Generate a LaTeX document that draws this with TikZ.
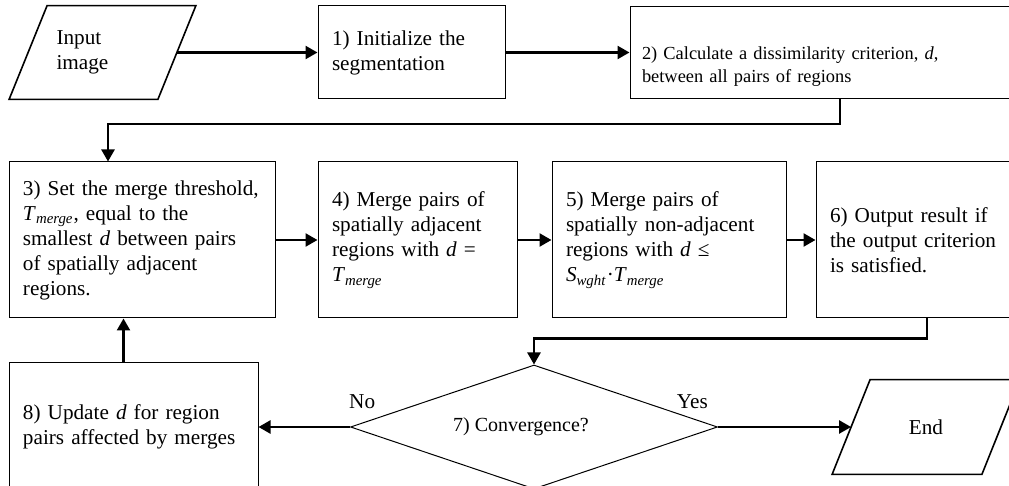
\documentclass[tikz,border=0pt]{standalone}
\usepackage{fontspec}
\setmainfont{Liberation Serif}
\usetikzlibrary{shapes.geometric}
\usetikzlibrary{arrows.meta}

\newcommand{\Tmerge}{\textit{T}\textsubscript{\textit{merge}}}
\newcommand{\Swght}{\textit{S}\textsubscript{\textit{wght}}}

\begin{document}
\begin{tikzpicture}[x=0.5pt,y=-0.5pt,>={Triangle[length=6pt,width=6.5pt]}, font=\fontsize{10.6}{12.5}\selectfont,
    box/.style={rectangle, draw, line width=0.5pt, align=left, inner xsep=7pt, inner ysep=0pt},
    io/.style={rectangle, align=left, inner ysep=0pt},
    dec/.style={diamond, draw, line width=0.5pt, aspect=3, inner sep=0pt, font=\fontsize{10}{12}\selectfont},
    flow/.style={->, line width=1.2pt}]
                    \useasboundingbox (0,0) rectangle (1009,486);
                    \clip (0,0) rectangle (1009,486);

                    \node[io, minimum width=74pt, minimum height=46.5pt, text width=46pt, inner xsep=14pt] (in) at (102.5,52.5) {Input\\image};
                    \draw [line width=0.8pt] ([xshift=9.5pt]in.north west) -- ([xshift=9.5pt]in.north east) -- ([xshift=-9.5pt]in.south east) -- ([xshift=-9.5pt]in.south west) -- cycle;

                    \node[box, minimum width=93.5pt, minimum height=46.5pt, text width=79.5pt] (1) at (411.5,52.5) {1) Initialize the\\segmentation};
                    \node[box, minimum width=210pt, minimum height=46pt, text width=198pt, inner xsep=6pt, font=\fontsize{9.2}{11.5}\selectfont] (2) at (840,52.5) {\rule{0pt}{20pt}2) Calculate a dissimilarity criterion, \textit{d},\\between all pairs of regions};

                    \node[box, minimum width=133pt, minimum height=78pt, text width=119pt] (3) at (142,240) {3) Set the merge threshold,\\\Tmerge, equal to the\\smallest \textit{d} between pairs\\of spatially adjacent\\regions.};
                    \node[box, minimum width=99.5pt, minimum height=78pt, text width=85.5pt] (4) at (417.5,240) {4) Merge pairs of\\spatially adjacent\\regions with \textit{d} =\\\Tmerge};
                    \node[box, minimum width=117pt, minimum height=78pt, text width=103pt] (5) at (669,240) {5) Merge pairs of\\spatially non-adjacent\\regions with \textit{d} ≤\\\Swght·\Tmerge};
                    \node[box, minimum width=111pt, minimum height=78pt, text width=97pt] (6) at (927,240) {6) Output result if\\the output criterion\\is satisfied.};

                    \node[dec, minimum width=183.5pt, minimum height=62pt] (7) at (534,427) {\hspace*{-13pt}7) Convergence?};
                    \node[box, minimum width=124.5pt, minimum height=64pt, text width=110.5pt] (8) at (133.5,427) {8) Update \textit{d} for region\\pairs affected by merges};

                    \node[io, minimum width=74.5pt, minimum height=47pt] (end) at (926,427) {End};
                    \draw [line width=0.8pt] ([xshift=9.5pt]end.north west) -- ([xshift=9.5pt]end.north east) -- ([xshift=-9.5pt]end.south east) -- ([xshift=-9.5pt]end.south west) -- cycle;

                    \draw [flow] (in) -- (1);
                    \draw [flow] (1) -- (2);
                    \draw [flow] (2.south) -- ++(0,25) -| ([xshift=-17pt]3.north);
                    \draw [flow] (3) -- (4);
                    \draw [flow] (4) -- (5);
                    \draw [flow] (5) -- (6);
                    \draw [flow] (6.south) -- ++(0,20) -| (7.north);
                    \draw [flow] (7.west) -- node[pos=0, anchor=south west, inner sep=0pt, xshift=-1pt, yshift=8.5pt] {No} (8.east);
                    \draw [flow] (7.east) -- node[pos=0, anchor=south east, inner sep=0pt, xshift=-4.5pt, yshift=8.5pt] {Yes} (end.west);
                    \draw [flow] ([xshift=-5pt]8.north) -- ([xshift=-5pt]8.north |- 3.south);
                \end{tikzpicture}
\end{document}
